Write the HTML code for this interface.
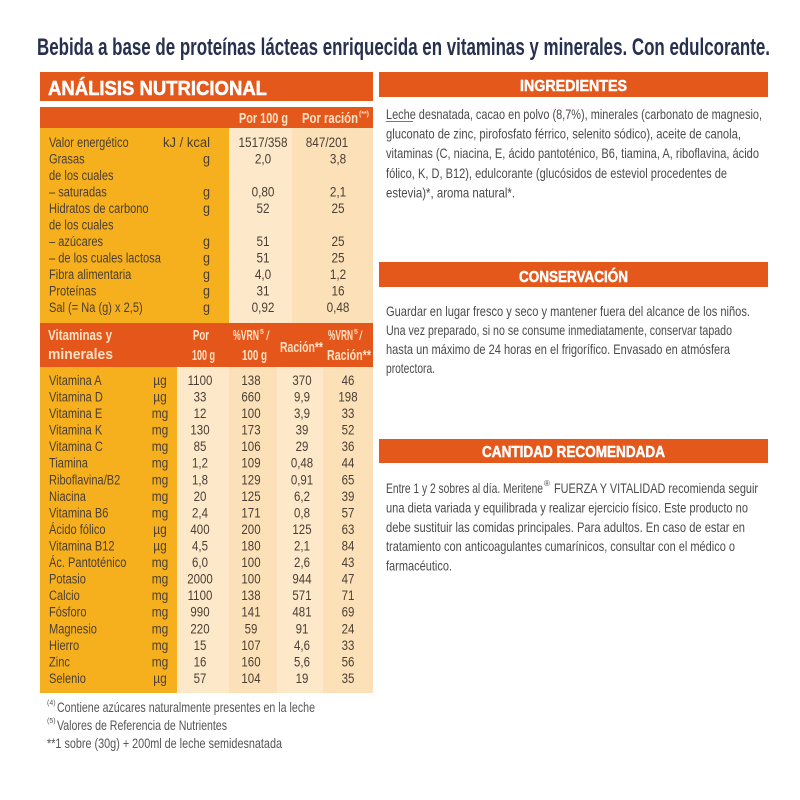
<!DOCTYPE html>
<html><head><meta charset="utf-8"><style>
html,body{margin:0;padding:0;background:#fff;}
svg{display:block;}
text{font-family:"Liberation Sans",sans-serif;}
.t{font-size:14px;fill:#4a3e34;}
.h{font-size:15px;font-weight:bold;fill:#fde3c6;}
.p{font-size:14px;fill:#4b4b4b;}
.b{font-weight:bold;fill:#fff;stroke:#fff;stroke-width:0.5px;}
</style></head><body>
<svg width="800" height="800" viewBox="0 0 800 800" xmlns="http://www.w3.org/2000/svg">
<rect width="800" height="800" fill="#fff"/>
<!-- Title -->
<text x="37" y="55" font-size="24" font-weight="bold" fill="#27304f" textLength="733" lengthAdjust="spacingAndGlyphs">Bebida a base de proteínas lácteas enriquecida en vitaminas y minerales. Con edulcorante.</text>

<!-- LEFT TABLE -->
<rect x="40" y="72" width="333" height="29" fill="#e5581c"/>
<text class="b" x="48" y="95" style="font-size:20px" textLength="219" lengthAdjust="spacingAndGlyphs">ANÁLISIS NUTRICIONAL</text>

<rect x="40" y="107" width="333" height="21" fill="#e5581c"/>
<text class="h" x="239" y="123" textLength="49" lengthAdjust="spacingAndGlyphs">Por 100 g</text>
<text class="h" x="302" y="123" textLength="56" lengthAdjust="spacingAndGlyphs">Por ración</text>
<text class="h" x="359" y="116" style="font-size:7px" textLength="10" lengthAdjust="spacingAndGlyphs">(**)</text>

<rect x="40" y="128" width="189" height="195" fill="#f6b01e"/>
<rect x="229" y="128" width="63" height="195" fill="#fde9ca"/>
<rect x="292" y="128" width="81" height="195" fill="#fce1b8"/>

<g transform="translate(49,0) scale(0.79,1)" class="t">
<text x="0" y="147">Valor energético</text>
<text x="0" y="163.5">Grasas</text>
<text x="0" y="180">de los cuales</text>
<text x="0" y="196.5">– saturadas</text>
<text x="0" y="213">Hidratos de carbono</text>
<text x="0" y="229.5">de los cuales</text>
<text x="0" y="246">– azúcares</text>
<text x="0" y="262.5">– de los cuales lactosa</text>
<text x="0" y="279">Fibra alimentaria</text>
<text x="0" y="295.5">Proteínas</text>
<text x="0" y="312">Sal (= Na (g) x 2,5)</text>
</g>
<text class="t" x="163" y="147" textLength="47" lengthAdjust="spacingAndGlyphs">kJ / kcal</text>
<g transform="translate(210,0) scale(0.9,1)" class="t" text-anchor="end">
<text x="0" y="163.5">g</text>
<text x="0" y="196.5">g</text>
<text x="0" y="213">g</text>
<text x="0" y="246">g</text>
<text x="0" y="262.5">g</text>
<text x="0" y="279">g</text>
<text x="0" y="295.5">g</text>
<text x="0" y="312">g</text>
</g>
<g transform="translate(263,0) scale(0.84,1)" class="t" text-anchor="middle">
<text x="0" y="147">1517/358</text>
<text x="0" y="163.5">2,0</text>
<text x="0" y="196.5">0,80</text>
<text x="0" y="213">52</text>
<text x="0" y="246">51</text>
<text x="0" y="262.5">51</text>
<text x="0" y="279">4,0</text>
<text x="0" y="295.5">31</text>
<text x="0" y="312">0,92</text>
</g>
<g transform="translate(327,0) scale(0.84,1)" class="t" text-anchor="middle">
<text x="0" y="147">847/201</text>
</g>
<g transform="translate(338,0) scale(0.84,1)" class="t" text-anchor="middle">
<text x="0" y="163.5">3,8</text>
<text x="0" y="196.5">2,1</text>
<text x="0" y="213">25</text>
<text x="0" y="246">25</text>
<text x="0" y="262.5">25</text>
<text x="0" y="279">1,2</text>
<text x="0" y="295.5">16</text>
<text x="0" y="312">0,48</text>
</g>

<!-- Vitamins header -->
<rect x="40" y="323" width="333" height="44" fill="#e5561b"/>
<text class="h" x="48" y="340" textLength="64" lengthAdjust="spacingAndGlyphs">Vitaminas y</text>
<text class="h" x="48" y="359" textLength="65" lengthAdjust="spacingAndGlyphs">minerales</text>
<text class="h" x="193" y="340" textLength="16" lengthAdjust="spacingAndGlyphs">Por</text>
<text class="h" x="192" y="360" textLength="23" lengthAdjust="spacingAndGlyphs">100 g</text>
<text class="h" x="233" y="340" textLength="26" lengthAdjust="spacingAndGlyphs">%VRN</text>
<text class="h" x="260" y="334" style="font-size:7px">5</text>
<text class="h" x="266" y="340" style="font-size:13px;font-weight:normal">/</text>
<text class="h" x="242" y="360" textLength="25" lengthAdjust="spacingAndGlyphs">100 g</text>
<text class="h" x="280" y="352" textLength="43" lengthAdjust="spacingAndGlyphs">Ración**</text>
<text class="h" x="328" y="340" textLength="25" lengthAdjust="spacingAndGlyphs">%VRN</text>
<text class="h" x="354" y="334" style="font-size:7px">5</text>
<text class="h" x="359" y="340" style="font-size:13px;font-weight:normal">/</text>
<text class="h" x="327" y="360" textLength="44" lengthAdjust="spacingAndGlyphs">Ración**</text>

<!-- Vitamins body -->
<rect x="40" y="367" width="137" height="326" fill="#f6b01e"/>
<rect x="177" y="367" width="52" height="326" fill="#fde9ca"/>
<rect x="229" y="367" width="48" height="326" fill="#fce1b8"/>
<rect x="277" y="367" width="46" height="326" fill="#fde9ca"/>
<rect x="323" y="367" width="50" height="326" fill="#fce1b8"/>

<g transform="translate(49,0) scale(0.79,1)" class="t">
<text x="0" y="385">Vitamina A</text>
<text x="0" y="401.5">Vitamina D</text>
<text x="0" y="418">Vitamina E</text>
<text x="0" y="434.6">Vitamina K</text>
<text x="0" y="451.2">Vitamina C</text>
<text x="0" y="467.7">Tiamina</text>
<text x="0" y="484.3">Riboflavina/B2</text>
<text x="0" y="500.8">Niacina</text>
<text x="0" y="517.4">Vitamina B6</text>
<text x="0" y="534">Ácido fólico</text>
<text x="0" y="550.5">Vitamina B12</text>
<text x="0" y="567">Ác. Pantoténico</text>
<text x="0" y="583.6">Potasio</text>
<text x="0" y="600.2">Calcio</text>
<text x="0" y="616.7">Fósforo</text>
<text x="0" y="633.3">Magnesio</text>
<text x="0" y="649.8">Hierro</text>
<text x="0" y="666.4">Zinc</text>
<text x="0" y="683">Selenio</text>
</g>
<g transform="translate(160,0) scale(0.85,1)" class="t" text-anchor="middle">
<text x="0" y="385">µg</text>
<text x="0" y="401.5">µg</text>
<text x="0" y="418">mg</text>
<text x="0" y="434.6">mg</text>
<text x="0" y="451.2">mg</text>
<text x="0" y="467.7">mg</text>
<text x="0" y="484.3">mg</text>
<text x="0" y="500.8">mg</text>
<text x="0" y="517.4">mg</text>
<text x="0" y="534">µg</text>
<text x="0" y="550.5">µg</text>
<text x="0" y="567">mg</text>
<text x="0" y="583.6">mg</text>
<text x="0" y="600.2">mg</text>
<text x="0" y="616.7">mg</text>
<text x="0" y="633.3">mg</text>
<text x="0" y="649.8">mg</text>
<text x="0" y="666.4">mg</text>
<text x="0" y="683">µg</text>
</g>
<g transform="translate(200,0) scale(0.82,1)" class="t" text-anchor="middle">
<text x="0" y="385">1100</text>
<text x="0" y="401.5">33</text>
<text x="0" y="418">12</text>
<text x="0" y="434.6">130</text>
<text x="0" y="451.2">85</text>
<text x="0" y="467.7">1,2</text>
<text x="0" y="484.3">1,8</text>
<text x="0" y="500.8">20</text>
<text x="0" y="517.4">2,4</text>
<text x="0" y="534">400</text>
<text x="0" y="550.5">4,5</text>
<text x="0" y="567">6,0</text>
<text x="0" y="583.6">2000</text>
<text x="0" y="600.2">1100</text>
<text x="0" y="616.7">990</text>
<text x="0" y="633.3">220</text>
<text x="0" y="649.8">15</text>
<text x="0" y="666.4">16</text>
<text x="0" y="683">57</text>
</g>
<g transform="translate(251,0) scale(0.82,1)" class="t" text-anchor="middle">
<text x="0" y="385">138</text>
<text x="0" y="401.5">660</text>
<text x="0" y="418">100</text>
<text x="0" y="434.6">173</text>
<text x="0" y="451.2">106</text>
<text x="0" y="467.7">109</text>
<text x="0" y="484.3">129</text>
<text x="0" y="500.8">125</text>
<text x="0" y="517.4">171</text>
<text x="0" y="534">200</text>
<text x="0" y="550.5">180</text>
<text x="0" y="567">100</text>
<text x="0" y="583.6">100</text>
<text x="0" y="600.2">138</text>
<text x="0" y="616.7">141</text>
<text x="0" y="633.3">59</text>
<text x="0" y="649.8">107</text>
<text x="0" y="666.4">160</text>
<text x="0" y="683">104</text>
</g>
<g transform="translate(302,0) scale(0.82,1)" class="t" text-anchor="middle">
<text x="0" y="385">370</text>
<text x="0" y="401.5">9,9</text>
<text x="0" y="418">3,9</text>
<text x="0" y="434.6">39</text>
<text x="0" y="451.2">29</text>
<text x="0" y="467.7">0,48</text>
<text x="0" y="484.3">0,91</text>
<text x="0" y="500.8">6,2</text>
<text x="0" y="517.4">0,8</text>
<text x="0" y="534">125</text>
<text x="0" y="550.5">2,1</text>
<text x="0" y="567">2,6</text>
<text x="0" y="583.6">944</text>
<text x="0" y="600.2">571</text>
<text x="0" y="616.7">481</text>
<text x="0" y="633.3">91</text>
<text x="0" y="649.8">4,6</text>
<text x="0" y="666.4">5,6</text>
<text x="0" y="683">19</text>
</g>
<g transform="translate(348,0) scale(0.82,1)" class="t" text-anchor="middle">
<text x="0" y="385">46</text>
<text x="0" y="401.5">198</text>
<text x="0" y="418">33</text>
<text x="0" y="434.6">52</text>
<text x="0" y="451.2">36</text>
<text x="0" y="467.7">44</text>
<text x="0" y="484.3">65</text>
<text x="0" y="500.8">39</text>
<text x="0" y="517.4">57</text>
<text x="0" y="534">63</text>
<text x="0" y="550.5">84</text>
<text x="0" y="567">43</text>
<text x="0" y="583.6">47</text>
<text x="0" y="600.2">71</text>
<text x="0" y="616.7">69</text>
<text x="0" y="633.3">24</text>
<text x="0" y="649.8">33</text>
<text x="0" y="666.4">56</text>
<text x="0" y="683">35</text>
</g>

<!-- Footnotes -->
<g fill="#555" font-size="14">
<text x="47" y="705" font-size="7">(4)</text>
<text x="57" y="712" textLength="258" lengthAdjust="spacingAndGlyphs">Contiene azúcares naturalmente presentes en la leche</text>
<text x="47" y="723" font-size="7">(5)</text>
<text x="57" y="730" textLength="170" lengthAdjust="spacingAndGlyphs">Valores de Referencia de Nutrientes</text>
<text x="47" y="748" textLength="235" lengthAdjust="spacingAndGlyphs">**1 sobre (30g) + 200ml de leche semidesnatada</text>
</g>

<!-- RIGHT: INGREDIENTES -->
<rect x="379" y="72" width="389" height="25" fill="#e5581c"/>
<text class="b" x="520" y="91" style="font-size:16px" textLength="107" lengthAdjust="spacingAndGlyphs">INGREDIENTES</text>
<g class="p">
<text x="386" y="119" textLength="376" lengthAdjust="spacingAndGlyphs">Leche desnatada, cacao en polvo (8,7%), minerales (carbonato de magnesio,</text>
<text x="386" y="138.6" textLength="355" lengthAdjust="spacingAndGlyphs">gluconato de zinc, pirofosfato férrico, selenito sódico), aceite de canola,</text>
<text x="386" y="158.2" textLength="373" lengthAdjust="spacingAndGlyphs">vitaminas (C, niacina, E, ácido pantoténico, B6, tiamina, A, riboflavina, ácido</text>
<text x="386" y="177.8" textLength="341" lengthAdjust="spacingAndGlyphs">fólico, K, D, B12), edulcorante (glucósidos de esteviol procedentes de</text>
<text x="386" y="197.4" textLength="129" lengthAdjust="spacingAndGlyphs">estevia)*, aroma natural*.</text>
</g>
<line x1="386" y1="121.5" x2="413" y2="121.5" stroke="#4b4b4b" stroke-width="0.8"/>

<!-- CONSERVACION -->
<rect x="379" y="262" width="389" height="25" fill="#e5581c"/>
<text class="b" x="519" y="282" style="font-size:16px" textLength="109" lengthAdjust="spacingAndGlyphs">CONSERVACIÓN</text>
<g class="p">
<text x="386" y="316" textLength="364" lengthAdjust="spacingAndGlyphs">Guardar en lugar fresco y seco y mantener fuera del alcance de los niños.</text>
<text x="386" y="335" textLength="346" lengthAdjust="spacingAndGlyphs">Una vez preparado, si no se consume inmediatamente, conservar tapado</text>
<text x="386" y="354" textLength="344" lengthAdjust="spacingAndGlyphs">hasta un máximo de 24 horas en el frigorífico. Envasado en atmósfera</text>
<text x="386" y="373" textLength="49" lengthAdjust="spacingAndGlyphs">protectora.</text>
</g>

<!-- CANTIDAD RECOMENDADA -->
<rect x="379" y="439" width="389" height="24" fill="#e5581c"/>
<text class="b" x="482" y="457" style="font-size:16px" textLength="183" lengthAdjust="spacingAndGlyphs">CANTIDAD RECOMENDADA</text>
<g class="p">
<text x="386" y="493" textLength="157" lengthAdjust="spacingAndGlyphs">Entre 1 y 2 sobres al día. Meritene</text>
<text x="544" y="486" style="font-size:8px">®</text>
<text x="554" y="493" textLength="204" lengthAdjust="spacingAndGlyphs">FUERZA Y VITALIDAD recomienda seguir</text>
<text x="386" y="512.5" textLength="362" lengthAdjust="spacingAndGlyphs">una dieta variada y equilibrada y realizar ejercicio físico. Este producto no</text>
<text x="386" y="532" textLength="359" lengthAdjust="spacingAndGlyphs">debe sustituir las comidas principales. Para adultos. En caso de estar en</text>
<text x="386" y="551" textLength="349" lengthAdjust="spacingAndGlyphs">tratamiento con anticoagulantes cumarínicos, consultar con el médico o</text>
<text x="386" y="570.5" textLength="66" lengthAdjust="spacingAndGlyphs">farmacéutico.</text>
</g>
</svg>
</body></html>
